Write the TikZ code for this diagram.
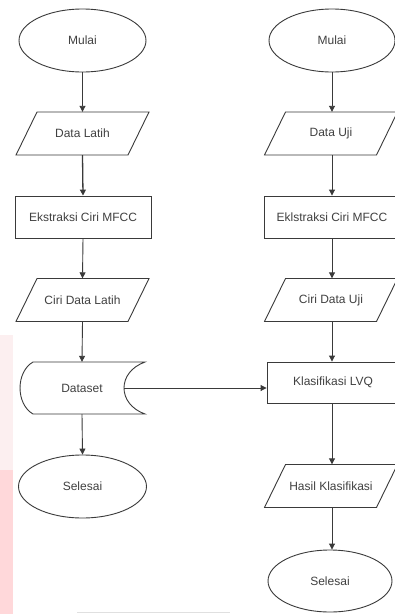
\documentclass[tikz,border=0pt]{standalone}
\usepackage{fontspec}
\setmainfont{Liberation Sans}
\usetikzlibrary{shapes.geometric,arrows.meta}
\definecolor{lnc}{HTML}{3A3A3A}
\definecolor{txc}{HTML}{404040}
\definecolor{pinkA}{RGB}{252,239,240}
\definecolor{pinkB}{RGB}{255,216,218}
\newcommand\mypara[4]{%
  \node[txtbox,minimum width=133,minimum height=43] (#1) at (#2,#3) {#4};
  \draw[shp] ({#2-66.5+21},{#3-21.5}) -- ({#2+66.5},{#3-21.5}) -- ({#2+66.5-21},{#3+21.5}) -- ({#2-66.5},{#3+21.5}) -- cycle;
}
\begin{document}
\begin{tikzpicture}[x=1pt,y=-1pt,
  every node/.style={font=\fontsize{12}{14}\selectfont, text=txc},
  shp/.style={draw=lnc, line width=0.9pt},
  txtbox/.style={draw=none, inner sep=0pt},
  oval/.style={shp, ellipse, inner sep=0pt},
  procbox/.style={shp, rectangle, inner sep=0pt, minimum height=42},
  flow/.style={draw=lnc, line width=0.9pt, -{Triangle[length=6pt,width=6pt]}}]
\clip (0,0) rectangle (395,614);
\fill[white] (0,0) rectangle (395,614);
% pink strip
\fill[pinkA] (0,335) rectangle (13,470);
\fill[pinkB] (0,470) rectangle (13,614);
% faint line at bottom
\draw[black!12, line width=1pt] (77,612) -- (230,612);

% left column
\node[oval, minimum width=127, minimum height=63] (m1) at (82.5,40.5) {Mulai};
\mypara{dl}{82.5}{133.5}{Data Latih}
\node[procbox, minimum width=136] (e1) at (83,217) {Ekstraksi Ciri MFCC};
\mypara{cl}{82.5}{300}{Ciri Data Latih}
\node[txtbox, minimum width=84, minimum height=52] (ds) at (82,388) {Dataset};
\draw[shp] (33,362) -- (145,362) .. controls (117,372) and (117,404) .. (145,414) -- (33,414) .. controls (15.7,404) and (15.7,372) .. (33,362);
\node[oval, minimum width=128, minimum height=63] (s1) at (82.5,486.5) {Selesai};

% right column
\node[oval, minimum width=126, minimum height=63] (m2) at (332,40.5) {Mulai};
\mypara{du}{331}{133.5}{Data Uji}
\node[procbox, minimum width=136] (e2) at (332,217) {Eklstraksi Ciri MFCC};
\mypara{cu}{331}{300}{Ciri Data Uji}
\node[procbox, minimum width=132, minimum height=41] (kl) at (333,382.5) {Klasifikasi LVQ};
\mypara{hk}{331}{486}{Hasil Klasifikasi}
\node[oval, minimum width=124, minimum height=62] (s2) at (330,581) {Selesai};

% connectors left
\draw[flow] (m1.south) -- (dl.north);
\draw[flow, line width=1.3pt] (dl.south) -- (e1.north);
\draw[flow] (e1.south) -- (cl.north);
\draw[flow] (cl.south) -- (ds.north);
\draw[flow] (ds.south) -- (s1.north);
% connectors right
\draw[flow] (m2.south) -- (m2.south |- du.north);
\draw[flow] (m2.south |- du.south) -- (m2.south |- e2.north);
\draw[flow] (m2.south |- e2.south) -- (m2.south |- cu.north);
\draw[flow] (m2.south |- cu.south) -- (m2.south |- kl.north);
\draw[flow] (m2.south |- kl.south) -- (m2.south |- hk.north);
\draw[flow] (m2.south |- hk.south) -- (m2.south |- s2.north);
% cross connector
\draw[flow] (ds.east) -- (ds.east -| kl.west);
\end{tikzpicture}
\end{document}
